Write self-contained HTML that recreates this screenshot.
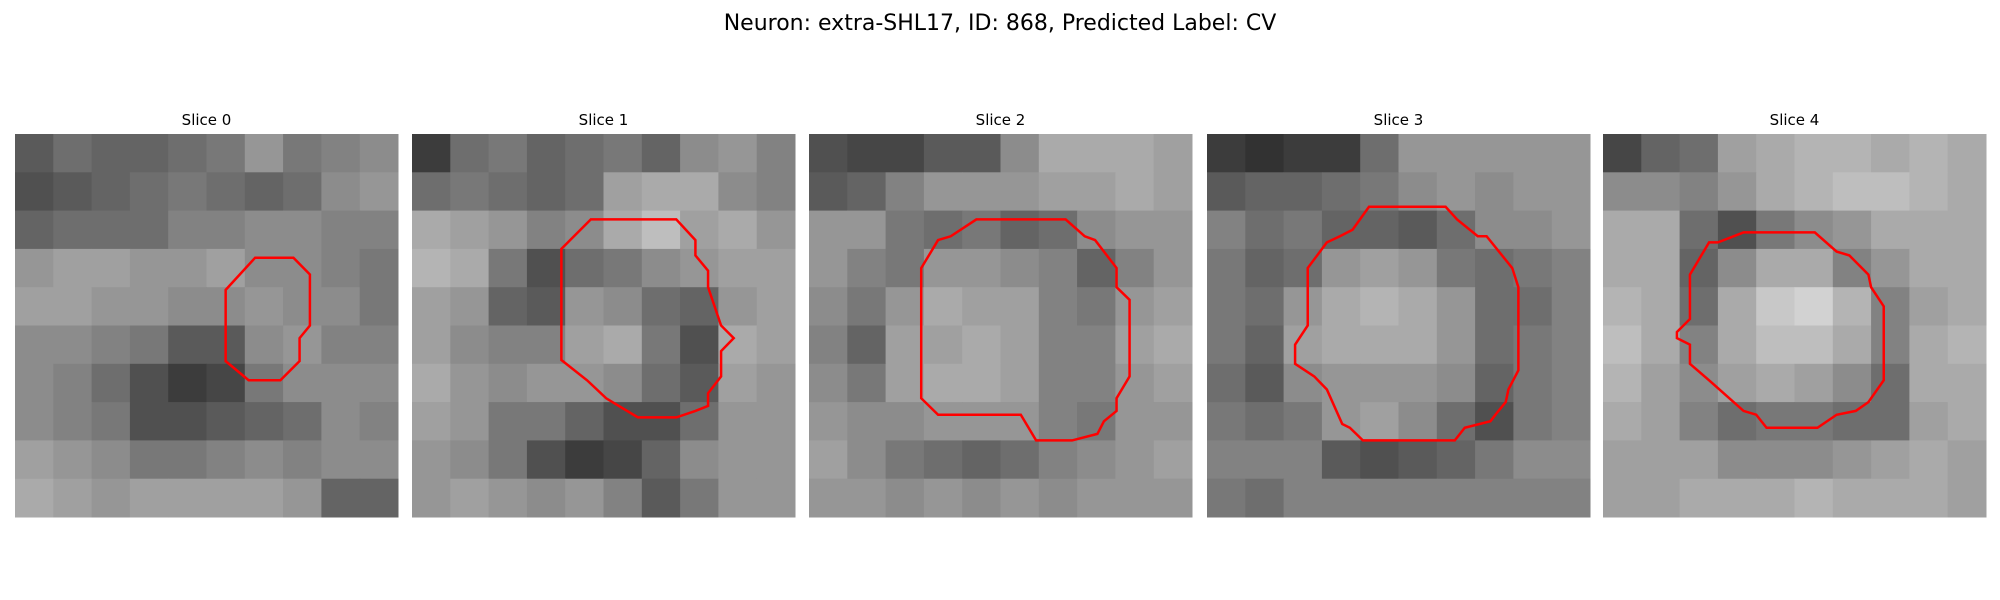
<!DOCTYPE html>
<html><head><meta charset="utf-8"><style>
html,body{margin:0;padding:0;background:#fff;width:2000px;height:600px;overflow:hidden}
svg{display:block}
</style></head><body>
<svg id="fig" width="2000" height="600" xmlns="http://www.w3.org/2000/svg" font-family="DejaVu Sans, Liberation Sans, sans-serif">
<text x="1000" y="30" text-anchor="middle" font-size="22" fill="#000">Neuron: extra-SHL17, ID: 868, Predicted Label: CV</text>
</svg>
<script>
const sliceTitles = ["Slice 0","Slice 1","Slice 2","Slice 3","Slice 4"];
const gray0 = [[90,110,100,100,110,120,150,120,130,140],[80,90,100,110,120,110,100,110,140,150],[100,110,110,110,130,130,140,140,130,130],[150,160,160,150,150,160,140,140,130,120],[160,160,150,150,140,140,150,140,140,120],[140,140,130,120,90,90,140,150,130,130],[140,130,110,80,60,70,120,140,140,140],[140,130,120,80,80,90,100,110,140,130],[160,150,140,120,120,130,140,130,140,140],[170,160,150,160,160,160,160,150,100,100]];
const gray1 = [[60,110,120,100,110,120,100,140,150,130],[110,120,110,100,110,160,170,170,140,130],[170,160,150,130,140,170,190,160,170,150],[180,170,120,80,110,120,140,150,160,160],[160,150,100,90,150,140,110,100,150,160],[160,140,130,130,160,170,120,80,170,160],[170,150,140,150,150,140,110,90,160,150],[160,150,120,120,100,80,80,110,150,150],[150,140,120,80,60,70,100,140,150,150],[150,160,150,140,150,130,90,120,150,150]];
const gray2 = [[80,70,70,90,90,140,170,170,170,160],[90,100,130,150,150,150,160,160,170,160],[150,150,120,110,120,100,110,140,150,150],[150,130,120,150,150,140,130,100,130,150],[140,120,150,170,160,160,130,120,150,160],[130,100,160,160,170,160,130,130,160,170],[140,120,160,170,170,160,130,130,150,160],[150,140,140,150,150,150,130,120,150,150],[160,140,120,110,100,110,130,140,150,160],[150,150,140,150,140,150,140,150,150,150]];
const gray3 = [[60,50,60,60,110,150,150,150,150,150],[90,100,100,110,120,140,150,140,150,150],[130,110,120,100,100,90,110,140,140,150],[120,100,110,150,160,150,120,110,120,130],[120,110,150,170,180,170,150,110,110,130],[120,100,160,170,170,170,150,110,120,130],[110,90,140,150,150,150,140,100,120,130],[120,110,120,150,160,140,110,80,120,130],[130,130,130,90,80,90,100,120,140,140],[120,110,130,130,130,130,130,130,130,130]];
const gray4 = [[70,100,110,160,170,180,180,170,180,170],[140,140,130,150,170,180,190,190,180,170],[170,170,110,80,120,140,150,170,170,170],[170,170,100,140,170,170,130,150,170,170],[180,170,110,170,200,210,180,130,160,170],[190,170,130,170,190,190,170,130,170,180],[180,160,140,160,170,160,140,110,170,170],[170,160,130,110,120,120,110,110,160,170],[160,160,160,140,140,140,150,160,170,160],[160,160,170,170,170,180,170,170,170,160]];
const grays = [gray0,gray1,gray2,gray3,gray4];
// contours in fractional panel units (0..1)
const contour0 = [[0.627,0.323],[0.727,0.323],[0.77,0.367],[0.77,0.5],[0.743,0.533],[0.743,0.593],[0.693,0.643],[0.61,0.643],[0.55,0.593],[0.55,0.407]];
const contour1 = [[0.467,0.223],[0.69,0.223],[0.74,0.277],[0.74,0.317],[0.773,0.357],[0.773,0.4],[0.807,0.5],[0.84,0.533],[0.807,0.567],[0.807,0.633],[0.773,0.677],[0.773,0.71],[0.74,0.723],[0.69,0.74],[0.59,0.74],[0.54,0.71],[0.507,0.69],[0.457,0.643],[0.39,0.59],[0.39,0.3]];
const contour2 = [[0.437,0.223],[0.67,0.223],[0.72,0.267],[0.747,0.277],[0.803,0.35],[0.803,0.4],[0.837,0.433],[0.837,0.633],[0.803,0.69],[0.803,0.723],[0.77,0.75],[0.753,0.783],[0.687,0.8],[0.593,0.8],[0.553,0.733],[0.337,0.733],[0.293,0.69],[0.293,0.35],[0.313,0.317],[0.337,0.277],[0.37,0.267]];
const contour3 = [[0.423,0.19],[0.623,0.19],[0.653,0.223],[0.707,0.267],[0.73,0.267],[0.797,0.35],[0.813,0.4],[0.813,0.617],[0.787,0.667],[0.78,0.7],[0.753,0.733],[0.74,0.75],[0.673,0.767],[0.647,0.8],[0.407,0.8],[0.373,0.767],[0.353,0.757],[0.313,0.667],[0.28,0.633],[0.23,0.6],[0.23,0.55],[0.263,0.5],[0.263,0.35],[0.313,0.283],[0.347,0.267],[0.38,0.25]];
const contour4 = [[0.367,0.257],[0.553,0.257],[0.61,0.307],[0.643,0.317],[0.693,0.367],[0.7,0.4],[0.733,0.45],[0.733,0.643],[0.693,0.7],[0.66,0.723],[0.61,0.733],[0.56,0.767],[0.427,0.767],[0.4,0.733],[0.367,0.723],[0.277,0.643],[0.227,0.6],[0.227,0.55],[0.193,0.533],[0.193,0.517],[0.227,0.483],[0.227,0.367],[0.277,0.283],[0.3,0.283]];
const contours = [contour0,contour1,contour2,contour3,contour4];

const NS='http://www.w3.org/2000/svg';
const svg=document.getElementById('fig');
const panelX=[15,412,809,1207,1603], panelY=134, S=383;
function px(i,f){return panelX[i]+f*S;}
function py(f){return panelY+f*S;}
grays.forEach((g,i)=>{
  const grp=document.createElementNS(NS,'g');
  
  
  svg.appendChild(grp);
  const n=g.length, c=S/n;
  g.forEach((row,r)=>row.forEach((v,k)=>{
    const rc=document.createElementNS(NS,'rect');
    
    
    rc.setAttribute('x',px(i,k/n));rc.setAttribute('y',py(r/n));
    rc.setAttribute('width',c+0.5);rc.setAttribute('height',c+0.5);
    rc.setAttribute('fill','rgb('+v+','+v+','+v+')');
    grp.appendChild(rc);
  }));
  const pl=document.createElementNS(NS,'polygon');
  
  
  pl.setAttribute('points',contours[i].map(p=>px(i,p[0])+','+py(p[1])).join(' '));
  pl.setAttribute('fill','none');pl.setAttribute('stroke','#ff0000');pl.setAttribute('stroke-width','2.5');
  grp.appendChild(pl);
  const t=document.createElementNS(NS,'text');
  
  
  t.setAttribute('x',px(i,0.5));t.setAttribute('y',125);
  t.setAttribute('text-anchor','middle');t.setAttribute('font-size','15');
  t.textContent=sliceTitles[i];
  grp.appendChild(t);
});
</script>
</body></html>
